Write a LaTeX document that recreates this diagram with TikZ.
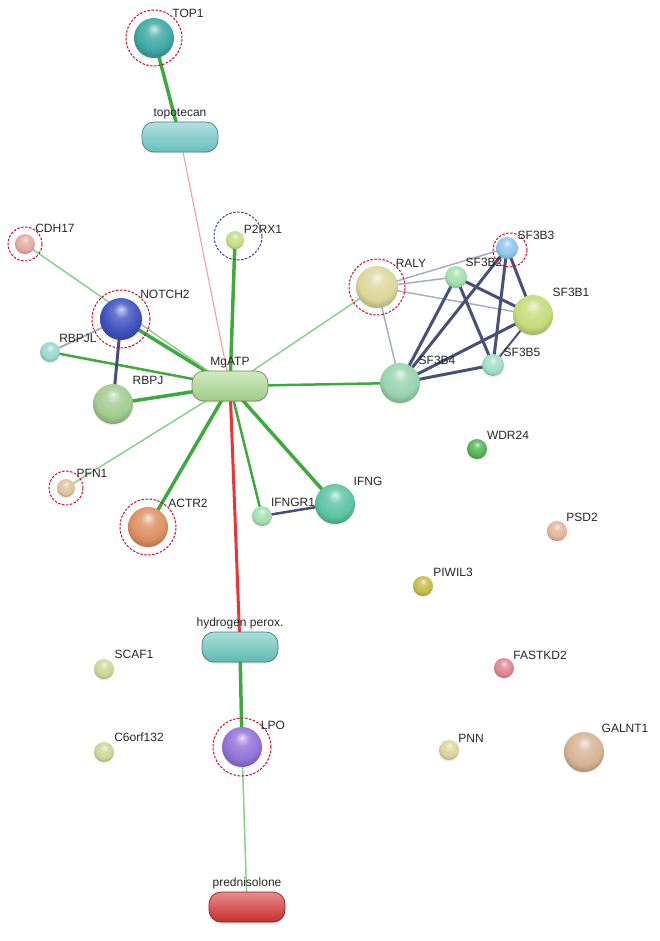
\documentclass[tikz,border=0pt]{standalone}
\usepackage{fontspec}
\setmainfont{Liberation Sans}
\usepackage{tikz}
\usetikzlibrary{backgrounds, shadows}

\definecolor{cTOP1}{HTML}{3DA8A3}
\definecolor{cCDH17}{HTML}{E3A9A0}
\definecolor{cP2RX1}{HTML}{C5DE86}
\definecolor{cNOTCH2}{HTML}{3F52C0}
\definecolor{cRBPJL}{HTML}{98D8CC}
\definecolor{cRBPJ}{HTML}{A2CC90}
\definecolor{cPFN1}{HTML}{DEC49E}
\definecolor{cACTR2}{HTML}{DC9062}
\definecolor{cIFNGR1}{HTML}{A6DDAE}
\definecolor{cIFNG}{HTML}{5CC4A2}
\definecolor{cRALY}{HTML}{DCD79A}
\definecolor{cSF3B2}{HTML}{A2E0AE}
\definecolor{cSF3B3}{HTML}{8EC6EC}
\definecolor{cSF3B1}{HTML}{C4DC7A}
\definecolor{cSF3B5}{HTML}{9EDFC6}
\definecolor{cSF3B4}{HTML}{98D4AE}
\definecolor{cWDR24}{HTML}{52B452}
\definecolor{cPSD2}{HTML}{E6B49C}
\definecolor{cPIWIL3}{HTML}{C4BC48}
\definecolor{cFASTKD2}{HTML}{DE8690}
\definecolor{cPNN}{HTML}{DED49C}
\definecolor{cGALNT1}{HTML}{D6B494}
\definecolor{cSCAF1}{HTML}{CCD896}
\definecolor{cC6orf132}{HTML}{CCD896}
\definecolor{cLPO}{HTML}{9272D8}
\definecolor{cTopo}{HTML}{6FC9C9}
\definecolor{cMg}{HTML}{A9D68E}
\definecolor{cHyd}{HTML}{66C4BC}
\definecolor{cPred}{HTML}{D42F2F}
\definecolor{eGreen}{HTML}{3DAA3D}
\definecolor{eLight}{HTML}{8CCF8C}
\definecolor{eRed}{HTML}{EE3333}
\definecolor{ePink}{HTML}{F29A9A}
\definecolor{eDark}{HTML}{465078}
\definecolor{eGrey}{HTML}{A4AEC6}
\definecolor{haloRed}{HTML}{C8102E}
\definecolor{haloBlue}{HTML}{2A4C8C}

\colorlet{stringcol}{white}
\pgfdeclareradialshading[stringcol]{stringball}{\pgfpoint{0bp}{12bp}}{%
 color(0bp)=(stringcol!25!white); color(9bp)=(stringcol!80!white);
 color(22bp)=(stringcol); color(30bp)=(stringcol!80!black); color(50bp)=(stringcol!75!black)}

\tikzset{
 ball/.style = {circle, inner sep=0pt, shade, shading=stringball, drop shadow={opacity=0.15, shadow xshift=0pt, shadow yshift=-1.5pt}},
 pill/.style = {rounded corners=12pt, minimum width=76pt, minimum height=30pt, inner sep=0pt, line width=0.7pt, drop shadow={opacity=0.2, shadow xshift=0pt, shadow yshift=-1.5pt}},
 lbl/.style = {font=\fontsize{12}{14}\selectfont, text=black!85, inner sep=0pt},
 halo/.style = {dash pattern=on 2.5pt off 1.5pt, line width=1pt, draw=haloRed},
 strong/.style = {line width=3.5pt, draw=eGreen},
 medium/.style = {line width=2.5pt, draw=eGreen},
 weak/.style = {line width=1.5pt, draw=eLight},
 dark/.style = {line width=3pt, draw=eDark},
 grey/.style = {line width=1.5pt, draw=eGrey}
}

\begin{document}
\begin{tikzpicture}[x=1pt, y=-1pt]
\useasboundingbox (0,0) rectangle (659,941);

\foreach \n/\x/\y/\rad/\lx/\ly in {TOP1/154/38/20/188/13, CDH17/25/244/10/55/228, P2RX1/235/240/9/263/229,
 NOTCH2/121/319/21/165/294, RBPJL/50/352/10/78/338, RBPJ/113/404/20/148/380, PFN1/66/488/9/92/473,
 ACTR2/148/527/20/188/503, IFNGR1/262/516/10/293/502, IFNG/335/504/20/368/481, RALY/377/287/21/411/263,
 SF3B2/456/277/11/484/262, SF3B3/507/248/11/536/235, SF3B1/533/315/20/571/292, SF3B5/493/365/11/522/352,
 SF3B4/400/383/20/437/360, WDR24/477/449/10/508/435, PSD2/557/531/10/582/517, PIWIL3/423/586/10/453/572,
 FASTKD2/504/668/10/540/655, PNN/449/750/10/471/738, GALNT1/584/752/20/625/728, SCAF1/104/669/10/134/654,
 C6orf132/104/752/10/139/737, LPO/242/747/20/273/725} {
 \colorlet{stringcol}{c\n}
 \node[ball, minimum size=2*\rad pt] (\n) at (\x,\y) {};
 \node[lbl] (l\n) at (\lx,\ly) {\n};
}

\foreach \n/\t/\x/\y/\c in {topo/topotecan/180/137/cTopo, MgATP/MgATP/230/386/cMg, hyd/hydrogen perox./240/647/cHyd, pred/prednisolone/247/907/cPred} {
 \node[pill, top color=\c!55!white, bottom color=\c!95!black, draw=\c!65!black] (\n) at (\x,\y) {};
 \node[lbl, anchor = south] (l\n) at (\x,\y-18) {\t};
}

\foreach \n/\rad in {TOP1/28, CDH17/17, NOTCH2/29, PFN1/17, ACTR2/28, RALY/28, LPO/29}
 \draw[halo] (\n.center) circle (\rad pt);
\draw[halo] ([xshift=3pt, yshift=-2pt]SF3B3.center) circle (17pt);
\draw[halo, draw=haloBlue] ([xshift=3pt, yshift=4pt]P2RX1.center) circle (24pt);

\begin{scope}[on background layer]
\foreach \a/\b in {TOP1/topo, hyd/LPO, P2RX1/MgATP, RBPJ/MgATP, ACTR2/MgATP, IFNG/MgATP, NOTCH2/MgATP}
 \draw[strong] (\a.center) -- (\b.center);
\foreach \a/\b in {RBPJL/MgATP, IFNGR1/MgATP, SF3B4/MgATP}
 \draw[medium] (\a.center) -- (\b.center);
\foreach \a/\b in {CDH17/MgATP, PFN1/MgATP, RALY/MgATP, LPO/pred}
 \draw[weak] (\a.center) -- (\b.center);
\draw[line width=1pt, draw=ePink] (topo.center) -- (MgATP.center);
\draw[line width=3pt, draw=eRed] (MgATP.center) -- (hyd.center);
\draw[dark] (NOTCH2.center) -- (RBPJ.center);
\draw[grey, line width=2pt] (RBPJL.center) -- (NOTCH2.center);
\draw[dark, line width=2.5pt] (IFNGR1.center) -- (IFNG.center);
\foreach \b in {SF3B2, SF3B3, SF3B1, SF3B4}
 \draw[grey] (RALY.center) -- (\b.center);
\foreach \a/\b in {SF3B2/SF3B4, SF3B2/SF3B5, SF3B2/SF3B1, SF3B3/SF3B4, SF3B3/SF3B5, SF3B3/SF3B1, SF3B1/SF3B4, SF3B4/SF3B5}
 \draw[dark] (\a.center) -- (\b.center);
\draw[dark, line width=2pt] (SF3B1.center) -- (SF3B5.center);
\end{scope}

\end{tikzpicture}
\end{document}
